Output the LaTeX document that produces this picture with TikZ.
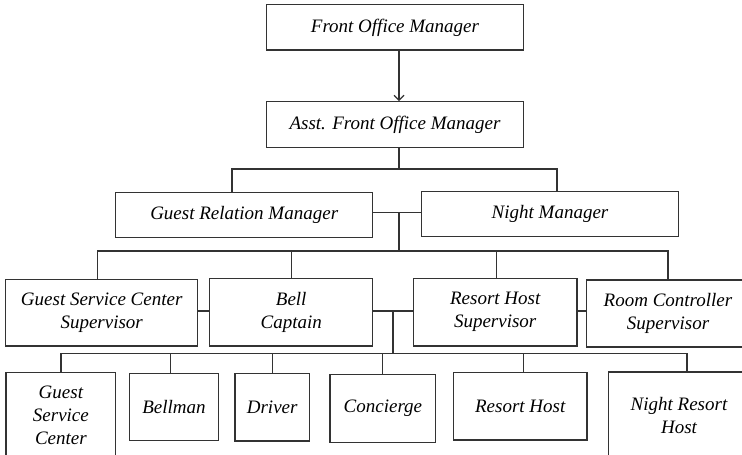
\documentclass[tikz,border=0pt]{standalone}
\usepackage{fontspec}
\setmainfont{Liberation Serif}
\usetikzlibrary{arrows.meta}
\tikzset{
  post/.style={draw=black!80, line width=1.2pt, align=center, inner sep=2pt,
    font=\fontsize{19}{23}\selectfont\itshape},
  wire/.style={draw=black!80, line width=1.2pt}
}
\begin{document}
\begin{tikzpicture}[x=1pt,y=-1pt]
\useasboundingbox (0,0) rectangle (742,455);
% management
\node[post, minimum width=256.6pt, minimum height=45.3pt] (fom) at (395,27.4) {Front Office Manager};
\node[post, minimum width=256.6pt, minimum height=45.6pt] (afom) at (395,124.5) {Asst. Front Office Manager};
\node[post, minimum width=257pt, minimum height=45pt] (grm) at (244.2,215.2) {Guest Relation Manager};
\node[post, minimum width=257.4pt, minimum height=45pt] (nm) at (550,214.2) {Night Manager};
% supervisors
\node[post, minimum width=192pt, minimum height=66.7pt] (gscs) at (101.7,312.7) {Guest Service Center\\Supervisor};
\node[post, minimum width=163pt, minimum height=67.7pt] (bell) at (291.2,312.2) {Bell\\Captain};
\node[post, minimum width=163.7pt, minimum height=67.7pt] (rhs) at (495.2,312.2) {Resort Host\\Supervisor};
\node[post, minimum width=162.6pt, minimum height=67pt] (rcs) at (668,313.5) {Room Controller\\Supervisor};
% staff
\node[post, minimum width=109.7pt, minimum height=86pt] (gsc) at (60.9,415.3) {Guest\\Service\\Center};
\node[post, minimum width=88.6pt, minimum height=67.4pt] (bellman) at (174,407) {Bellman};
\node[post, minimum width=74.3pt, minimum height=67.7pt] (driver) at (272.2,407.2) {Driver};
\node[post, minimum width=105.7pt, minimum height=68pt] (conc) at (382.9,408.3) {Concierge};
\node[post, minimum width=133.7pt, minimum height=67.7pt] (rh) at (520.2,406.2) {Resort Host};
\node[post, minimum width=140.6pt, minimum height=86pt] (nrh) at (679,415) {Night Resort\\Host};
% junctions
\coordinate (j1) at (399,169);
\coordinate (j2) at (399,212.3);
\coordinate (j3) at (399,251);
\coordinate (j4) at (393,311);
\coordinate (j5) at (393,353.3);
% connectors
\draw[wire, -{Straight Barb[length=5pt,width=10pt]}] (fom.south -| j1) -- (afom.north -| j1);
\draw[wire] (afom.south -| j1) -- (j1);
\draw[wire] ([xshift=-12.2pt]grm.north) |- (j1) -| ([xshift=7pt]nm.north);
\draw[wire] (grm.east |- j2) -- (nm.west |- j2);
\draw[wire] (j2) -- (j3);
\draw[wire] ([xshift=-4pt]gscs.north) |- (j3) -| (rcs.north);
\draw[wire] (bell.north) -- (bell.north |- j3);
\draw[wire] ([xshift=1.5pt]rhs.north) -- ([xshift=1.5pt]rhs.north |- j3);
\draw[wire] (gscs.east |- j4) -- (bell.west |- j4);
\draw[wire] (bell.east |- j4) -- (rhs.west |- j4);
\draw[wire] (rhs.east |- j4) -- (rcs.west |- j4);
\draw[wire] (j4) -- (j5);
\draw[wire] (gsc.north) |- (j5) -| ([xshift=8pt]nrh.north);
\foreach \n/\s in {bellman/-3.7, driver/0.5, conc/-0.6, rh/3.5}
  \draw[wire] ([xshift=\s pt]\n.north) -- ([xshift=\s pt]\n.north |- j5);
\end{tikzpicture}
\end{document}
